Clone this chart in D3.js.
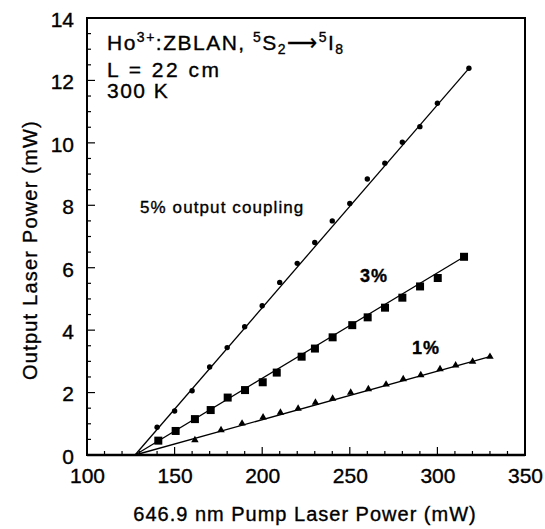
<!DOCTYPE html>
<html><head><meta charset="utf-8">
<script src="https://cdn.jsdelivr.net/npm/d3@7"></script>
<style>
html,body{margin:0;padding:0;background:#fff;}
text{font-family:"Liberation Sans",Arial,sans-serif;fill:#000;stroke:#000;stroke-width:0.35px;}
</style></head>
<body><svg id="c" width="545" height="529"></svg>
<script>
// ---- data ----
const x5 = [140,150,160,170,180,190,200,210,220,230,240,250,260,270,280,290,300,318];
const y5 = [0.89,1.41,2.06,2.82,3.44,4.11,4.78,5.53,6.14,6.81,7.50,8.06,8.84,9.35,10.02,10.52,11.27,12.39];
const x3 = [140.7,150.6,161.6,170.6,180.3,190.2,200.3,208.3,222.5,230.1,240.2,251.4,260.2,270.1,280,290.1,300.2,315.2];
const y3 = [0.46,0.77,1.15,1.44,1.84,2.08,2.33,2.64,3.15,3.41,3.77,4.16,4.41,4.72,5.04,5.40,5.67,6.35];
const x1 = [161.6,176.5,188.5,200.5,210.4,220.5,230.4,240.2,250.5,260.6,270.7,280.5,290.5,301.5,310.4,320.1,330];
const y1 = [0.48,0.80,1.01,1.21,1.36,1.49,1.68,1.81,2.00,2.11,2.26,2.43,2.56,2.75,2.87,2.99,3.15];
// fitted lines (start / end points)
const fit5 = [[127.4,0],[318.5,12.42]];
const fit3 = [[127.4,0],[315.5,6.36]];
const fit1 = [[127.4,0],[331,3.17]];
const xTicks = [100,150,200,250,300,350];
const yTicks = [0,2,4,6,8,10,12,14];

const svg = d3.select("#c");
const L=87,R=525,T=18,B=455;
const x = d3.scaleLinear().domain([100,350]).range([L,R]);
const y = d3.scaleLinear().domain([0,14]).range([B,T]);

// minor ticks
const g = svg.append("g");
const xMinor = d3.range(100,351,10);
g.selectAll("line.xm").data(xMinor).enter().append("line")
  .attr("x1",d=>x(d)).attr("x2",d=>x(d))
  .attr("y1",B).attr("y2",d=>B-(d%50===0?8:4))
  .attr("stroke","#000").attr("stroke-width",1.2);
const yMinor = d3.range(0,14.01,0.5);
g.selectAll("line.ym").data(yMinor).enter().append("line")
  .attr("y1",d=>y(d)).attr("y2",d=>y(d))
  .attr("x1",L).attr("x2",d=>L+(d%2===0?8:4))
  .attr("stroke","#000").attr("stroke-width",1.2);

// frame
svg.append("rect").attr("x",L).attr("y",T).attr("width",R-L).attr("height",B-T)
  .attr("fill","none").attr("stroke","#000").attr("stroke-width",2);
svg.append("line").attr("x1",L).attr("x2",R).attr("y1",B).attr("y2",B)
  .attr("stroke","#000").attr("stroke-width",2.6);

// axes labels via d3 axes (tick text only)
const xa = svg.append("g").attr("transform",`translate(0,${B})`)
  .call(d3.axisBottom(x).tickValues(xTicks).tickSize(0).tickPadding(13));
xa.select(".domain").remove();
xa.selectAll("text").style("font-size","21px").attr("font-family","Liberation Sans");
const ya = svg.append("g").attr("transform",`translate(${L},0)`)
  .call(d3.axisLeft(y).tickValues(yTicks).tickSize(0).tickPadding(13));
ya.select(".domain").remove();
ya.selectAll("text").style("font-size","21px").attr("font-family","Liberation Sans").attr("dy","0.4em");

// axis titles
svg.append("text").attr("x",305).attr("y",521).attr("text-anchor","middle")
  .style("font-size","20px").style("letter-spacing","1px").text("646.9 nm Pump Laser Power (mW)");
svg.append("text").attr("transform","translate(37,250) rotate(-90)").attr("text-anchor","middle")
  .style("font-size","20px").style("letter-spacing","1.2px").text("Output Laser Power (mW)");

// fit lines
const line = d3.line().x(d=>x(d[0])).y(d=>y(d[1]));
[fit5,fit3,fit1].forEach(f=>{
  svg.append("path").attr("d",line(f)).attr("fill","none").attr("stroke","#000").attr("stroke-width",1.3);
});

// markers
const pts = (xs,ys)=>xs.map((v,i)=>[v,ys[i]]);
svg.selectAll("circle.s5").data(pts(x5,y5)).enter().append("circle")
  .attr("cx",d=>x(d[0])).attr("cy",d=>y(d[1])).attr("r",2.7).attr("fill","#000");
svg.selectAll("rect.s3").data(pts(x3,y3)).enter().append("rect")
  .attr("x",d=>x(d[0])-4).attr("y",d=>y(d[1])-4).attr("width",8).attr("height",8).attr("fill","#000");
const tri = d3.symbol().type(d3.symbolTriangle).size(24);
svg.selectAll("path.s1").data(pts(x1,y1)).enter().append("path")
  .attr("transform",d=>`translate(${x(d[0])},${y(d[1])})`).attr("d",tri).attr("fill","#000");

// annotations
const fs = 21;
const t1 = svg.append("text").attr("x",107).attr("y",50).style("font-size",fs+"px").style("letter-spacing","1.5px");
t1.append("tspan").text("Ho");
t1.append("tspan").attr("dy",-8).style("font-size","14px").text("3+");
t1.append("tspan").attr("dy",8).text(":ZBLAN, ");
t1.append("tspan").attr("dy",-8).style("font-size","14px").text("5");
t1.append("tspan").attr("dy",8).text("S");
t1.append("tspan").attr("dy",4).style("font-size","14px").text("2");
t1.append("tspan").attr("dy",-4).text("\u27F6");
t1.append("tspan").attr("dy",-8).style("font-size","14px").text("5");
t1.append("tspan").attr("dy",8).text("I");
t1.append("tspan").attr("dy",4).style("font-size","14px").text("8");
svg.append("text").attr("x",107).attr("y",77).style("font-size",fs+"px").style("letter-spacing","2.5px").text("L = 22 cm");
svg.append("text").attr("x",107).attr("y",98).style("font-size",fs+"px").style("letter-spacing","1.5px").text("300 K");

svg.append("text").attr("x",140).attr("y",213).style("font-size","17px").style("letter-spacing","1.1px").text("5% output coupling");
svg.append("text").attr("x",360).attr("y",282).style("font-size","18px").style("font-weight","bold").style("letter-spacing","1px").text("3%");
svg.append("text").attr("x",412).attr("y",354).style("font-size","18px").style("font-weight","bold").style("letter-spacing","1px").text("1%");
</script></body></html>
